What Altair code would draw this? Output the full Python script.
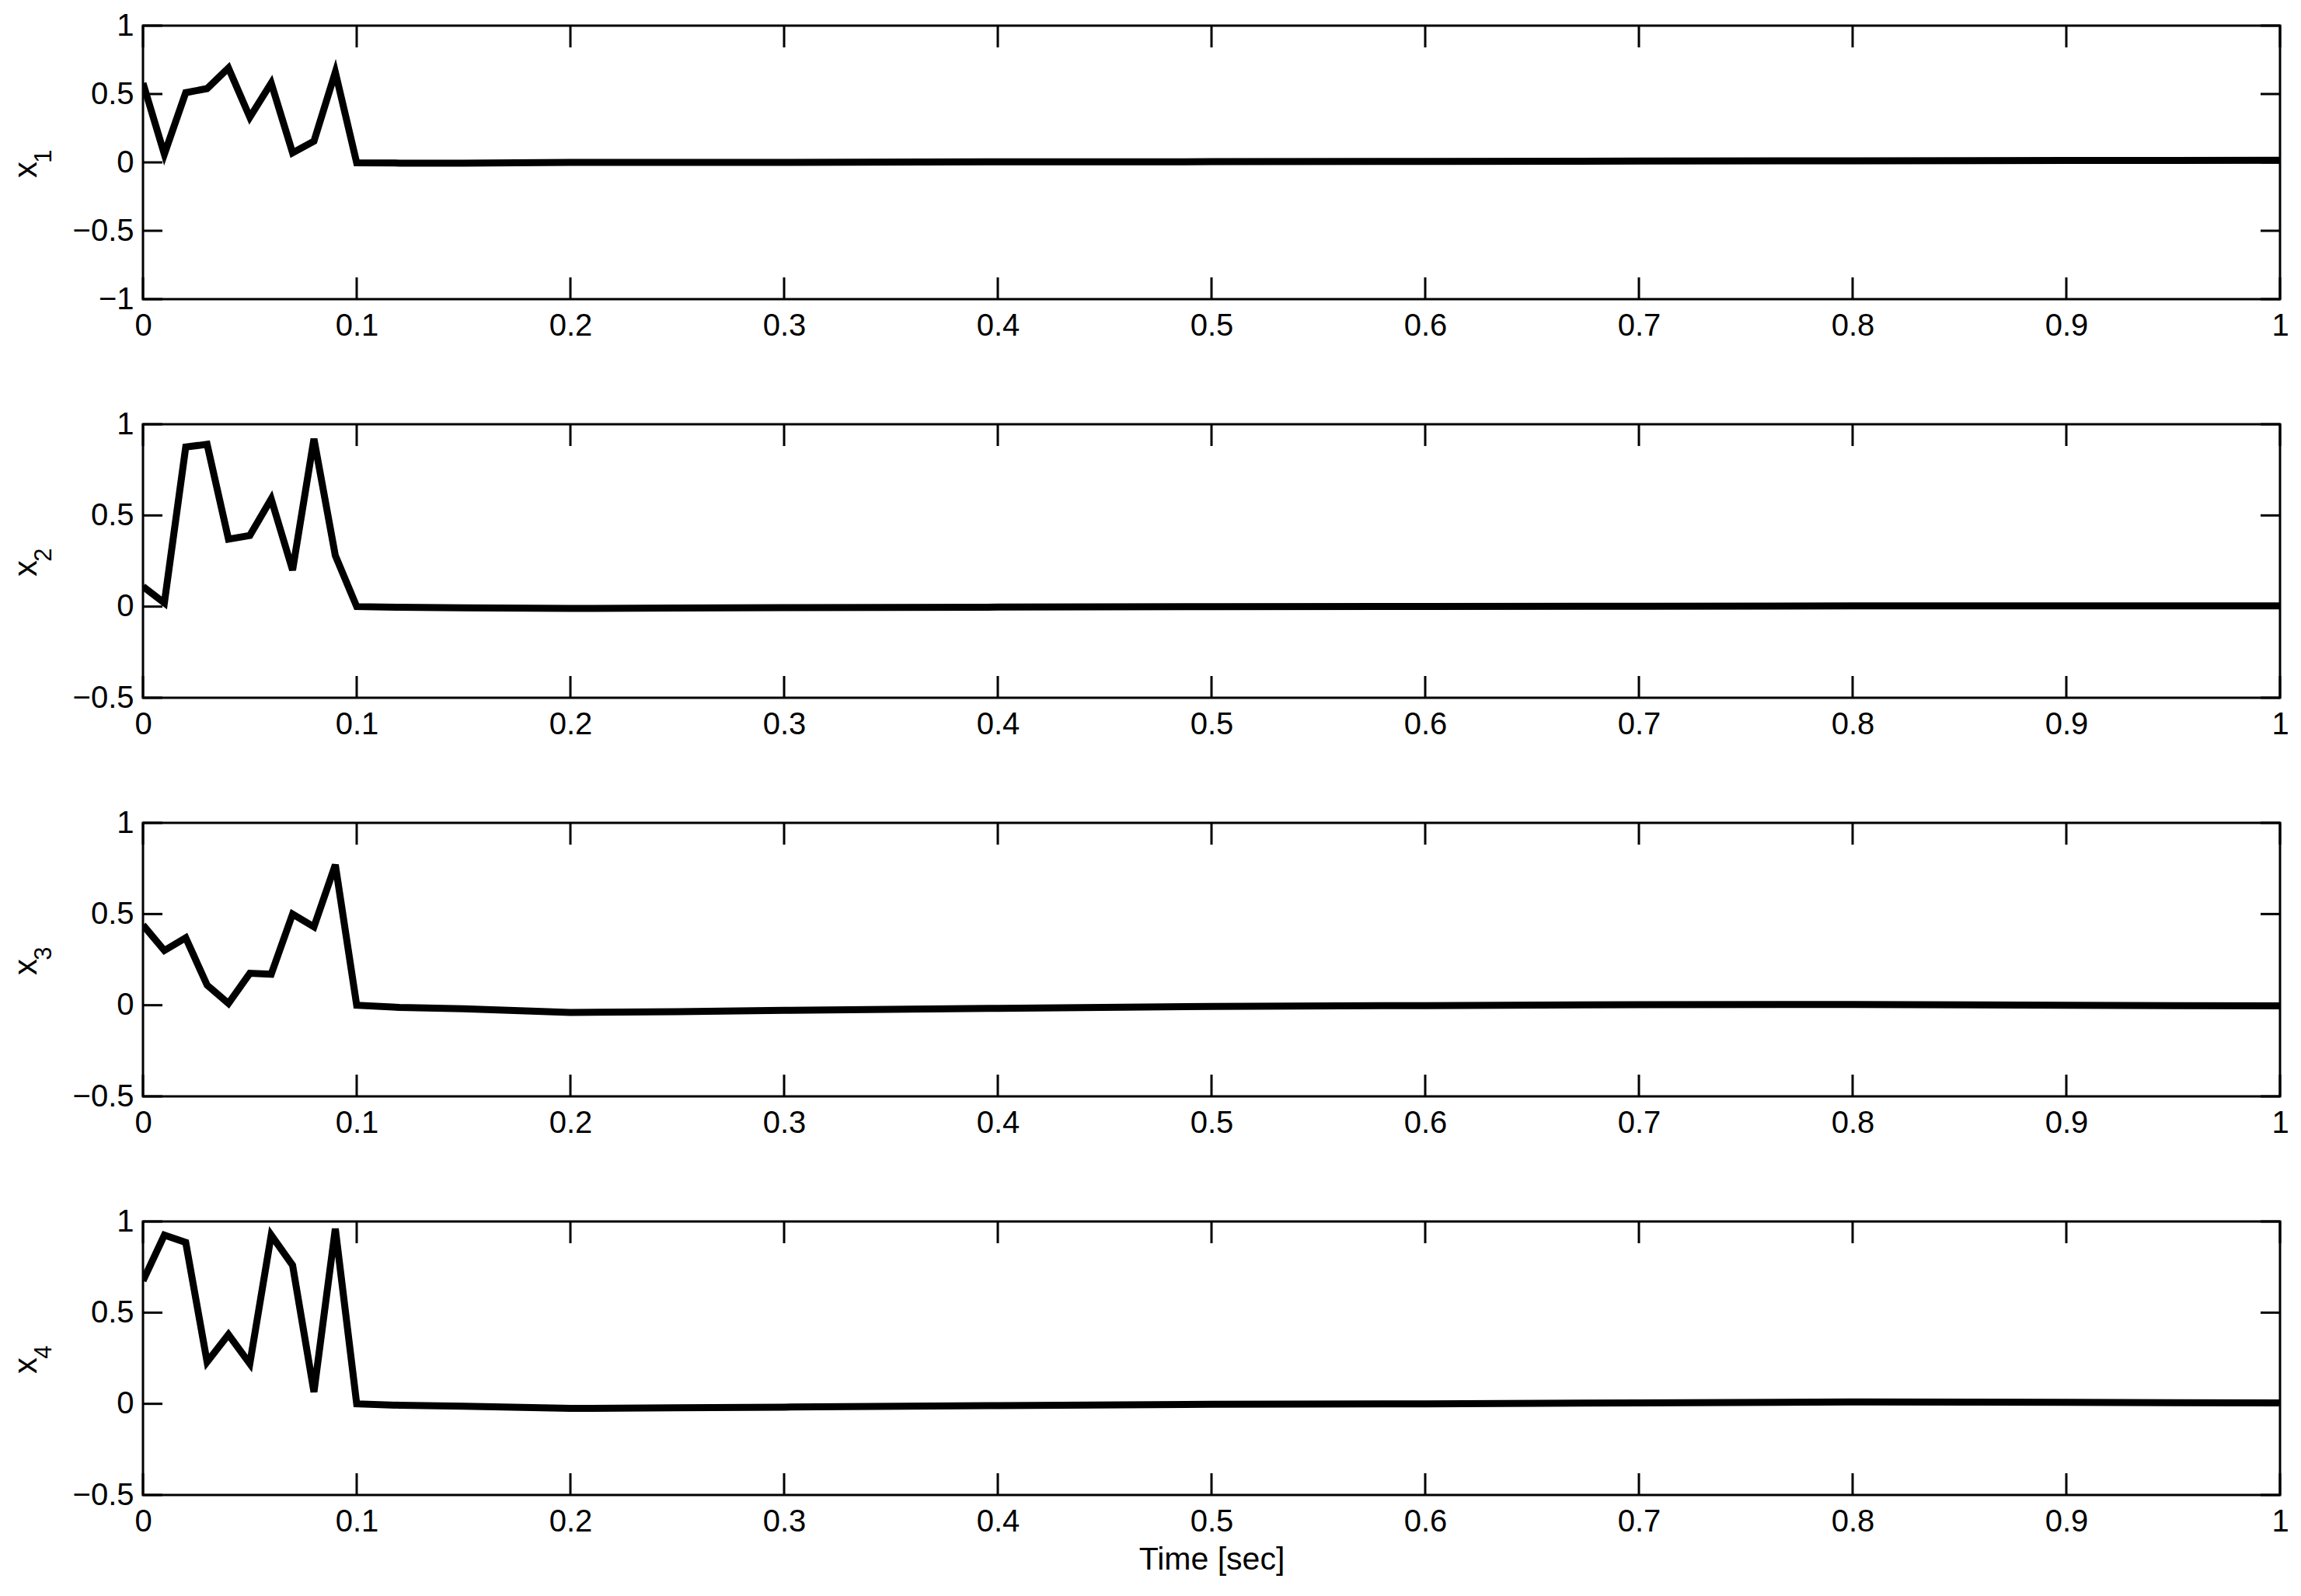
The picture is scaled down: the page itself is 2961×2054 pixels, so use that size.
import altair as alt
import pandas as pd

# time samples (sec)
time = [0.0, 0.01, 0.02, 0.03, 0.04, 0.05, 0.06, 0.07, 0.08, 0.09, 0.1,
        0.12, 0.15, 0.2, 0.25, 0.3, 0.4, 0.5, 0.6, 0.7, 0.8, 0.9, 1.0]

x1 = [0.58, 0.06, 0.51, 0.54, 0.69, 0.33, 0.58, 0.07, 0.155, 0.66, -0.003,
      -0.005, -0.005, 0.0, 0.0, 0.0, 0.004, 0.005, 0.007, 0.01, 0.012, 0.014, 0.015]
x2 = [0.11, 0.02, 0.875, 0.89, 0.37, 0.39, 0.59, 0.20, 0.92, 0.28, 0.0,
      -0.004, -0.007, -0.01, -0.008, -0.006, -0.003, 0.0, 0.001, 0.002, 0.004, 0.004, 0.004]
x3 = [0.44, 0.30, 0.37, 0.11, 0.01, 0.175, 0.17, 0.50, 0.43, 0.77, 0.0,
      -0.012, -0.02, -0.04, -0.035, -0.028, -0.017, -0.007, -0.002, 0.003, 0.004, 0.0, -0.004]
x4 = [0.675, 0.925, 0.885, 0.23, 0.38, 0.22, 0.925, 0.76, 0.065, 0.96, 0.0,
      -0.008, -0.013, -0.025, -0.022, -0.018, -0.01, -0.003, 0.0, 0.005, 0.01, 0.008, 0.005]

label_main = "x"
label_subs = ["1", "2", "3", "4"]
y_domains = [[-1, 1], [-0.5, 1], [-0.5, 1], [-0.5, 1]]
y_tick_sets = [[-1, -0.5, 0, 0.5, 1], [-0.5, 0, 0.5, 1], [-0.5, 0, 0.5, 1], [-0.5, 0, 0.5, 1]]
x_ticks = [0, 0.1, 0.2, 0.3, 0.4, 0.5, 0.6, 0.7, 0.8, 0.9, 1]
x_title = "Time [sec]"

W, H = 2750, 352
FONT = "Liberation Sans"
FS = 40
XT = 28
YT = 25


def panel(values, sub, ydom, yticks, last):
    df = pd.DataFrame({"t": time, "v": values})
    xscale = alt.Scale(domain=[0, 1], nice=False, zero=False)
    yscale = alt.Scale(domain=ydom, nice=False, zero=False)
    xkw = dict(values=x_ticks, ticks=False, domain=False, grid=False,
               labelFlush=False, labelOverlap=False, labelPadding=14,
               labelFont=FONT, labelFontSize=FS, labelColor="black", format="~g")
    if last:
        xkw.update(title=x_title, titleFont=FONT, titleFontSize=41,
                   titleFontWeight="normal", titleColor="black",
                   titleY=63, titleBaseline="top")
    else:
        xkw.update(title="")
    xaxis = alt.Axis(**xkw)
    yaxis = alt.Axis(values=yticks, ticks=False, domain=False, grid=False,
                     labelPadding=12, labelFont=FONT, labelFontSize=FS,
                     labelColor="black", format="~g", labelOverlap=False,
                     labelFlush=False,
                     title=label_main, titleFont=FONT, titleFontSize=42,
                     titleFontWeight="normal", titleColor="black",
                     titleAngle=270, titleX=-138, titleY=H / 2 + 9,
                     titleBaseline="alphabetic", titleAlign="center")
    line = alt.Chart(df).mark_line(color="black", strokeWidth=9, clip=True).encode(
        x=alt.X("t:Q", scale=xscale, axis=xaxis),
        y=alt.Y("v:Q", scale=yscale, axis=yaxis),
    )
    xt = pd.DataFrame({"t": x_ticks})
    yt = pd.DataFrame({"v": yticks})
    rule_style = dict(color="black", strokeWidth=3)
    tb = alt.Chart(xt).mark_rule(**rule_style).encode(
        x=alt.X("t:Q", scale=xscale, axis=xaxis), y=alt.value(H), y2=alt.value(H - XT))
    tt = alt.Chart(xt).mark_rule(**rule_style).encode(
        x=alt.X("t:Q", scale=xscale, axis=xaxis), y=alt.value(0), y2=alt.value(XT))
    tl = alt.Chart(yt).mark_rule(**rule_style).encode(
        y=alt.Y("v:Q", scale=yscale, axis=yaxis), x=alt.value(0), x2=alt.value(YT))
    tr = alt.Chart(yt).mark_rule(**rule_style).encode(
        y=alt.Y("v:Q", scale=yscale, axis=yaxis), x=alt.value(W), x2=alt.value(W - YT))
    subtxt = alt.Chart(pd.DataFrame({"s": [sub]})).mark_text(
        angle=270, font=FONT, fontSize=31, color="black",
        baseline="alphabetic", align="center").encode(
        text="s:N", x=alt.value(-118), y=alt.value(H / 2 - 8))
    return alt.layer(line, tb, tt, tl, tr, subtxt).properties(width=W, height=H)


series = [x1, x2, x3, x4]
panels = [panel(series[i], label_subs[i], y_domains[i], y_tick_sets[i], i == 3) for i in range(4)]

chart = alt.vconcat(*panels, spacing=161, bounds="flush").properties(
    padding={"left": 2, "top": 3, "right": 5, "bottom": 5}
).configure(background="white").configure_view(stroke="black", strokeWidth=3)

chart.save("out.html", embed_options={"renderer": "svg", "actions": False})
